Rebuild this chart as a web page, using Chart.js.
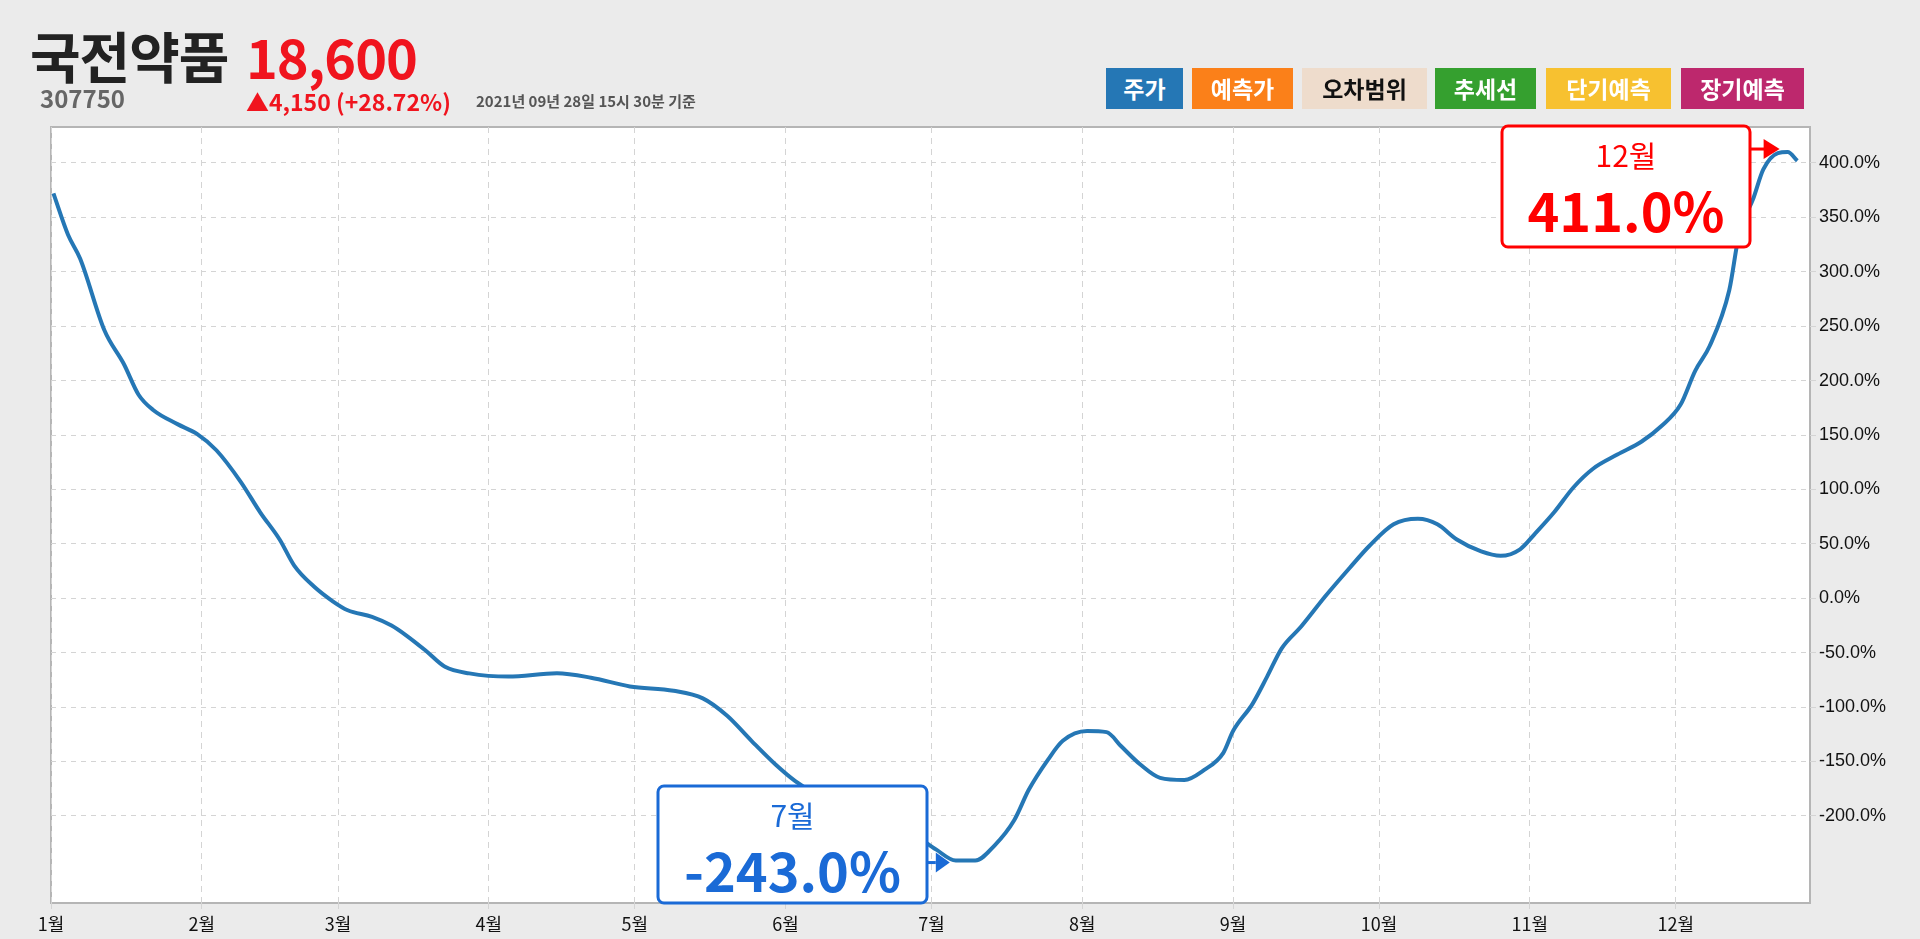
<!DOCTYPE html>
<html><head><meta charset="utf-8">
<script src="https://cdn.jsdelivr.net/npm/chart.js@4"></script>
<style>
html,body{margin:0;padding:0;background:#ebebeb;font-family:"Noto Sans CJK KR","Noto Sans",sans-serif;}
#wrap{position:relative;width:1920px;height:939px;}
canvas{position:absolute;left:0;top:0;}
.h{position:absolute;white-space:nowrap;}
.btn{position:absolute;top:68px;height:41px;line-height:41px;color:#fff;font-weight:bold;font-size:23px;text-align:center;}
</style></head><body>
<div id="wrap">
<canvas id="c" width="1920" height="939"></canvas>
<div class="h" style="left:30px;top:14px;font-size:55px;font-weight:bold;color:#222;letter-spacing:-1px">국전약품</div>
<div class="h" style="left:246px;top:16px;font-size:54px;font-weight:bold;color:#f0141e;letter-spacing:-1px">18,600</div>
<div class="h" style="left:40px;top:80px;font-size:24px;font-weight:bold;color:#666">307750</div>
<div class="h" style="left:246px;top:84px;font-size:23px;font-weight:bold;color:#f0141e">▲4,150 (+28.72%)</div>
<div class="h" style="left:476px;top:90px;font-size:15px;font-weight:bold;color:#555">2021년 09년 28일 15시 30분 기준</div>
<div class="btn" style="left:1106px;width:77px;background:#2577b5">주가</div>
<div class="btn" style="left:1192px;width:101px;background:#fb8019">예측가</div>
<div class="btn" style="left:1302px;width:125px;background:#eedccc;color:#111">오차범위</div>
<div class="btn" style="left:1435px;width:101px;background:#35a02f">추세선</div>
<div class="btn" style="left:1546px;width:125px;background:#f7c130">단기예측</div>
<div class="btn" style="left:1681px;width:123px;background:#bd286d">장기예측</div>
</div>
<script>
const monthLabels=['1월','2월','3월','4월','5월','6월','7월','8월','9월','10월','11월','12월'];
const monthDays=[0,31,59,90,120,151,181,212,243,273,304,334];
const yTicks=[-200,-150,-100,-50,0,50,100,150,200,250,300,350,400];
const days=[0.5,3.5,6,11,15,18,21,26,30,34,39,43,47,50,54,58,61,66,70,73,77,81,86,94,104,111,119,128,134,139,144,149,153,158,167,177,182,186,190,194,198,201,205,208,213,217,220,224,228,233,237,241,243,247,250,253,257,262,267,271,276,281,285,289,294,298,302,305,309,313,317,322,327,331,335,338,341,345,347,350,352,355,357,359];
const values=[372,334,312,246,215,187,173,160,151,136,107,79,54,30,11,-3,-11,-17,-25,-34,-48,-63,-69,-72,-69,-73,-81,-85,-92,-108,-131,-153,-168,-182,-199,-216,-231,-241,-241,-227,-204,-176,-148,-131,-122,-123,-136,-153,-165,-167,-158,-142,-122,-97,-72,-46,-26,2,28,48,68,73,68,54,43,39,45,59,79,102,119,132,144,158,178,209,232,283,334,368,394,409,410,402];
const minLabel={month:'7월',text:'-243.0%'};
const maxLabel={month:'12월',text:'411.0%'};

const pts=days.map((d,i)=>({x:d,y:values[i]}));
function rr(ctx,x,y,w,h,r){ctx.beginPath();ctx.moveTo(x+r,y);ctx.arcTo(x+w,y,x+w,y+h,r);ctx.arcTo(x+w,y+h,x,y+h,r);ctx.arcTo(x,y+h,x,y,r);ctx.arcTo(x,y,x+w,y,r);ctx.closePath();}
const annot={id:'annot',afterDatasetsDraw(ch){
  const ctx=ch.ctx,xs=ch.scales.x,ys=ch.scales.y;
  let iMin=0,iMax=0;values.forEach((v,i)=>{if(v<values[iMin])iMin=i;if(v>values[iMax])iMax=i;});
  let px=xs.getPixelForValue(days[iMax]),py=ys.getPixelForValue(values[iMax]);
  ctx.save();
  let bx=1502,by=126,bw=248,bh=121;
  ctx.fillStyle='#fff';ctx.strokeStyle='#f00';ctx.lineWidth=3;rr(ctx,bx,by,bw,bh,6);ctx.fill();ctx.stroke();
  ctx.fillStyle='#f00';ctx.textAlign='center';ctx.textBaseline='middle';
  ctx.font='30px "Noto Sans CJK KR"';ctx.fillText(maxLabel.month,bx+bw/2,by+30);
  ctx.font='bold 54px "Noto Sans CJK KR"';ctx.fillText(maxLabel.text,bx+bw/2,by+85);
  ctx.beginPath();ctx.moveTo(bx+bw,py-3);ctx.lineTo(px-22,py-3);ctx.stroke();
  ctx.beginPath();ctx.moveTo(px-8,py-3);ctx.lineTo(px-24,py-13);ctx.lineTo(px-24,py+7);ctx.closePath();ctx.fill();
  px=xs.getPixelForValue(days[iMin]);py=ys.getPixelForValue(values[iMin]);
  bx=658;by=786;bw=269;bh=117;
  ctx.fillStyle='#fff';ctx.strokeStyle='#1a6ad6';rr(ctx,bx,by,bw,bh,6);ctx.fill();ctx.stroke();
  ctx.fillStyle='#1a6ad6';
  ctx.font='30px "Noto Sans CJK KR"';ctx.fillText(minLabel.month,bx+bw/2,by+30);
  ctx.font='bold 54px "Noto Sans CJK KR"';ctx.fillText(minLabel.text,bx+bw/2,by+85);
  ctx.beginPath();ctx.moveTo(bx+bw,py+2);ctx.lineTo(px-20,py+2);ctx.stroke();
  ctx.beginPath();ctx.moveTo(px-6,py+2);ctx.lineTo(px-20,py-8);ctx.lineTo(px-20,py+12);ctx.closePath();ctx.fill();
  ctx.restore();
}};
const bg={id:'bg',beforeDraw(ch){const a=ch.chartArea,c=ch.ctx;c.save();c.fillStyle='#fff';c.fillRect(a.left,a.top,a.right-a.left,a.bottom-a.top);c.strokeStyle='#b5b5b5';c.lineWidth=2;c.strokeRect(a.left,a.top,a.right-a.left,a.bottom-a.top);c.restore();}};
new Chart(document.getElementById('c'),{
 type:'line',
 data:{datasets:[{data:pts,borderColor:'#2577b5',borderWidth:4,pointRadius:0,tension:0.4,cubicInterpolationMode:'monotone'}]},
 options:{responsive:false,animation:false,
  layout:{padding:{left:51,top:127,right:10,bottom:6}},
  plugins:{legend:{display:false},tooltip:{enabled:false}},
  scales:{
   x:{type:'linear',min:0,max:361.6,
     afterBuildTicks:s=>{s.ticks=monthDays.map(v=>({value:v}));},
     afterFit:s=>{s.height=30;},
     ticks:{autoSkip:false,maxRotation:0,color:'#111',font:{size:18,family:'"Noto Sans CJK KR"'},padding:4,callback:v=>monthLabels[monthDays.indexOf(v)]},
     grid:{color:'#d4d4d4',tickLength:6,drawTicks:true},border:{dash:[6,5],display:false}},
   y:{position:'right',min:-280,max:433,
     afterBuildTicks:s=>{s.ticks=yTicks.map(v=>({value:v}));},
     afterFit:s=>{s.width=100;},
     ticks:{color:'#111',font:{size:18,family:'"Liberation Sans"'},padding:3,callback:v=>v.toFixed(1)+'%'},
     grid:{color:'#d4d4d4',tickLength:6},border:{dash:[5,5],display:false}}
  }},
 plugins:[bg,annot]
});
</script></body></html>
